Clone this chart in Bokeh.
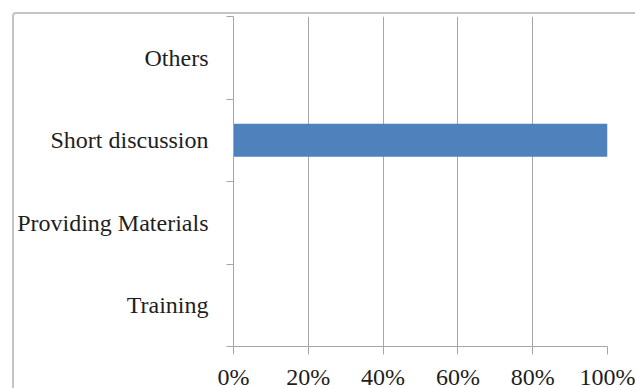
from bokeh.plotting import figure
from bokeh.models import Range1d, FixedTicker
from bokeh.embed import file_html
from bokeh.resources import INLINE

categories = ["Training", "Providing Materials", "Short discussion", "Others"]
values = [0.0, 0.0, 1.0, 0.0]
x_ticks = [0, 0.2, 0.4, 0.6, 0.8, 1.0]
x_tick_labels = ["0%", "20%", "40%", "60%", "80%", "100%"]

pos = [i + 0.5 for i in range(len(categories))]
bounds = [float(i) for i in range(len(categories) + 1)]

FONT = "Liberation Serif"
GRAY = "#a6a6a6"

p = figure(
    output_backend="svg", toolbar_location=None,
    frame_width=374, frame_height=330,
    min_border_left=219, min_border_right=28, min_border_top=2, min_border_bottom=42,
    x_range=Range1d(0, 1), y_range=Range1d(0, len(categories)),
    margin=(12, 0, 0, 12),
)
p.styles = {
    "border-top": "2px solid #c4c4c4",
    "border-left": "2px solid #c4c4c4",
    "border-top-left-radius": "4px",
}
p.outline_line_color = None
p.background_fill_color = "white"
p.border_fill_color = "white"

p.hbar(y=pos, right=values, left=0, height=0.4, color="#4F81BD", line_color=None)

# x axis
p.xaxis.ticker = FixedTicker(ticks=x_ticks)
p.xaxis.major_label_overrides = {t: l for t, l in zip(x_ticks, x_tick_labels)}
p.xaxis.axis_line_color = GRAY
p.xaxis.major_tick_line_color = GRAY
p.xaxis.major_tick_out = 8
p.xaxis.major_tick_in = 0
p.xaxis.minor_tick_line_color = None
p.xaxis.major_label_text_font = FONT
p.xaxis.major_label_text_font_size = "24px"
p.xaxis.major_label_text_color = "#1e1e1e"
p.xaxis.major_label_standoff = 9

# y axis: ticks at category boundaries, labels at centers
p.yaxis.ticker = FixedTicker(ticks=pos, minor_ticks=bounds)
p.yaxis.major_label_overrides = {v: c for v, c in zip(pos, categories)}
p.yaxis.axis_line_color = GRAY
p.yaxis.major_tick_line_color = None
p.yaxis.major_tick_out = 0
p.yaxis.major_tick_in = 0
p.yaxis.minor_tick_line_color = GRAY
p.yaxis.minor_tick_out = 7
p.yaxis.minor_tick_in = 0
p.yaxis.major_label_text_font = FONT
p.yaxis.major_label_text_font_size = "24px"
p.yaxis.major_label_text_color = "#1e1e1e"
p.yaxis.major_label_standoff = 18

p.xgrid.ticker = FixedTicker(ticks=x_ticks)
p.xgrid.grid_line_color = GRAY
p.ygrid.grid_line_color = None

open("out.html", "w").write(file_html(p, INLINE))
